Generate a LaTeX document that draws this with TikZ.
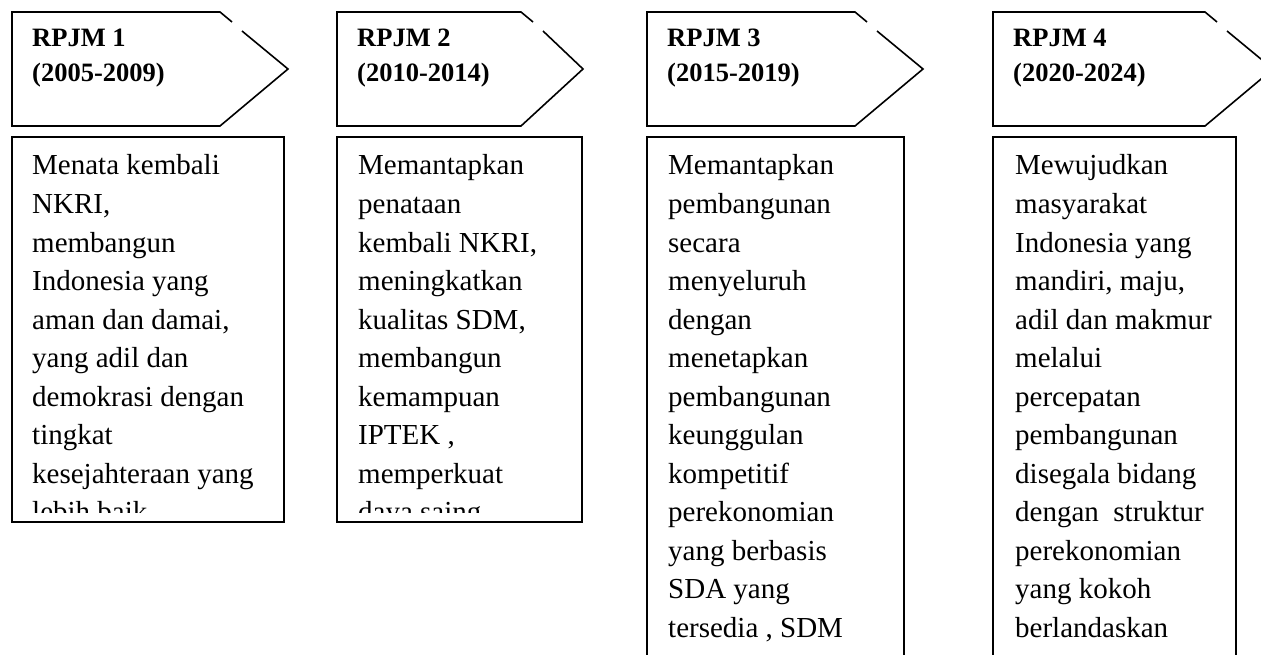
\documentclass[tikz,border=0pt]{standalone}
\usepackage{fontspec}
\setmainfont{Liberation Serif}
\usetikzlibrary{positioning}

\tikzset{
  period/.style={line width=1.6pt,line join=miter},
  aimbox/.style={line width=1.3pt},
  headtext/.style={anchor=base west,inner sep=0pt,font=\fontsize{26.5}{32}\selectfont\bfseries},
  aimtext/.style={anchor=base west,inner sep=0pt,font=\fontsize{29}{38.5}\selectfont},
}

\begin{document}
\begin{tikzpicture}[x=1pt,y=-1pt]
  \useasboundingbox (0,0) rectangle (1261,655);
  % period arrows (upper slant is broken near the shoulder)
  \foreach \n/\l/\s/\p/\yr in {1/12/220/288/2005-2009, 2/337/521/583/2010-2014,
      3/647/855/923/2015-2019, 4/993/1205/1273/2020-2024}{
    \draw[period] (\s+12,22) -- (\s,12) -- (\l,12) -- (\l,126) -- (\s,126) -- (\p,69) -- (\s+22,31);
    \node[headtext] (head\n) at (\l+20,47) {RPJM \n};
    \node[headtext] (year\n) at (\l+20,82) {(\yr)};
  }
  % aim boxes
  \foreach \n/\l/\r/\b in {1/12/284/522, 2/337/582/522, 3/647/904/690, 4/993/1236/690}
    \draw[aimbox] (\l,137) rectangle (\r,\b);
  \begin{scope}
    \clip (12,137) rectangle (284,512);
    \foreach \t [count=\i from 0] in {Menata kembali, {NKRI,}, membangun, Indonesia yang,
        {aman dan damai,}, yang adil dan, demokrasi dengan, tingkat, kesejahteraan yang, lebih baik}
      \node[aimtext] (aim1-\i) at (32,175+38.5*\i) {\t};
  \end{scope}
  \begin{scope}
    \clip (337,137) rectangle (582,512);
    \foreach \t [count=\i from 0] in {Memantapkan, penataan, {kembali NKRI,}, meningkatkan,
        {kualitas SDM,}, membangun, kemampuan, {IPTEK ,}, memperkuat, daya saing}
      \node[aimtext] (aim2-\i) at (358,175+38.5*\i) {\t};
  \end{scope}
  \foreach \t [count=\i from 0] in {Memantapkan, pembangunan, secara, menyeluruh, dengan,
      menetapkan, pembangunan, keunggulan, kompetitif, perekonomian, yang berbasis,
      SDA yang, {tersedia , SDM}}
    \node[aimtext] (aim3-\i) at (668,175+38.5*\i) {\t};
  \foreach \t [count=\i from 0] in {Mewujudkan, masyarakat, Indonesia yang, {mandiri, maju,},
      adil dan makmur, melalui, percepatan, pembangunan, disegala bidang, dengan~ struktur,
      perekonomian, yang kokoh, berlandaskan}
    \node[aimtext] (aim4-\i) at (1015,175+38.5*\i) {\t};
\end{tikzpicture}
\end{document}
